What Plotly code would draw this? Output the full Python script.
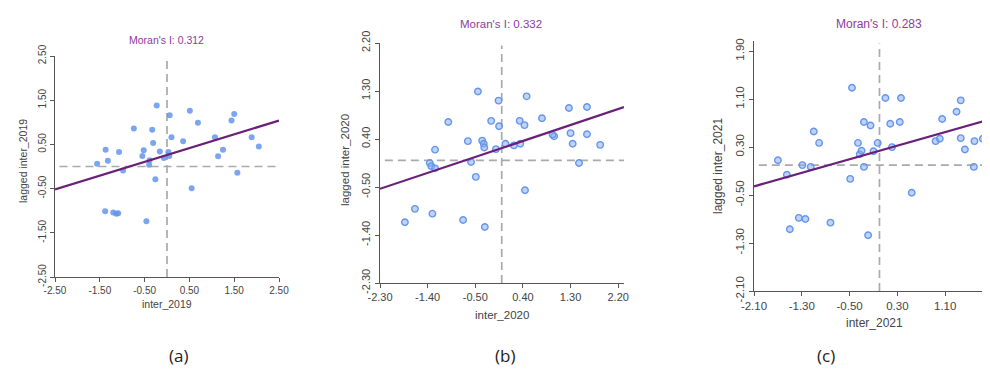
import plotly.graph_objects as go

W, H = 990, 369

# ---------------- data ----------------
years = ["2019", "2020", "2021"]
moran_I = [0.312, 0.332, 0.283]          # slope of the fitted line
fit_intercept = [0.26, 0.23, 0.24]
mean_x = [0.0, 0.0, 0.0]
mean_y = [0.0, 0.0, 0.0]
panel_labels = ["(a)", "(b)", "(c)"]

x_2019 = [-1.56, -1.37, -1.32, -1.07, -0.98, -0.74, -0.55, -0.52, -0.39, -0.40,
          -0.31, -0.33, -0.26, -0.23, -0.16, -0.07, 0.03, 0.05, 0.06, 0.10,
          0.36, 0.51, 0.55, 0.69, 1.07, 1.14, 1.25, 1.44, 1.50, 1.57,
          1.89, 2.05, -1.38, -1.20, -1.13, -1.09, -0.46]
y_2019 = [0.06, 0.38, 0.13, 0.33, -0.09, 0.86, 0.24, 0.37, 0.14, 0.04,
          0.53, 0.83, -0.29, 1.38, 0.34, 0.19, 0.33, 0.24, 1.16, 0.66,
          0.57, 1.26, -0.49, 0.99, 0.66, 0.23, 0.38, 1.04, 1.19, -0.14,
          0.66, 0.45, -1.01, -1.04, -1.07, -1.06, -1.24]

x_2020 = [-1.83, -1.64, -1.31, -0.73, -0.32, -1.36, -1.33, -1.26, -1.26, -1.01,
          -0.64, -0.58, -0.49, -0.45, -0.37, -0.34, -0.33, -0.20, -0.11, -0.06,
          -0.05, 0.07, 0.23, 0.34, 0.35, 0.43, 0.44, 0.47, 0.76, 0.99,
          0.96, 1.27, 1.30, 1.34, 1.46, 1.61, 1.61, 1.86]
y_2020 = [-1.16, -0.91, -1.00, -1.12, -1.25, -0.05, -0.11, -0.15, 0.20, 0.72,
          0.36, -0.03, -0.31, 1.29, 0.37, 0.31, 0.24, 0.74, 0.21, 1.12,
          0.64, 0.31, 0.28, 0.74, 0.31, 0.66, -0.56, 1.20, 0.79, 0.45,
          0.48, 0.98, 0.51, 0.31, -0.05, 1.00, 0.49, 0.29]

x_2021 = [-1.70, -1.55, -1.50, -1.35, -1.24, -1.29, -1.15, -1.10, -1.01, -0.82,
          -0.49, -0.46, -0.36, -0.33, -0.30, -0.26, -0.26, -0.19, -0.15, -0.10,
          -0.03, 0.10, 0.18, 0.21, 0.34, 0.36, 0.54, 0.94, 1.01, 1.05,
          1.29, 1.36, 1.36, 1.43, 1.58, 1.59, 1.73]
y_2021 = [0.08, -0.16, -1.07, -0.88, -0.90, 0.00, -0.03, 0.56, 0.37, -0.96,
          -0.23, 1.29, 0.37, 0.18, 0.24, 0.72, -0.03, -1.17, 0.66, 0.23,
          0.37, 1.12, 0.69, 0.30, 0.72, 1.12, -0.46, 0.40, 0.44, 0.77,
          0.89, 1.08, 0.45, 0.26, -0.03, 0.40, 0.44]

xs = [x_2019, x_2020, x_2021]
ys = [y_2019, y_2020, y_2021]

ticks_2019 = [-2.5, -1.5, -0.5, 0.5, 1.5, 2.5]
ticks_2020 = [-2.3, -1.4, -0.5, 0.4, 1.3, 2.2]
ticks_2021 = [-2.1, -1.3, -0.5, 0.3, 1.1, 1.9]
tick_sets = [ticks_2019, ticks_2020, ticks_2021]

# ---------------- layout geometry (pixels) ----------------
# plot-area box in pixels: left, right, top, bottom
boxes = [(47, 271, 48, 269), (372, 616, 35, 275), (746, 990, 33, 283)]
x_ranges = [[-2.5, 2.5], [-2.3, 2.31], [-2.1, 1.984]]
y_ranges = [[-2.5, 2.5], [-2.3, 2.2], [-2.1, 2.07]]
title_pos = [(158, 32), (493, 16), (871, 16)]
xtitle_pos = [(159, 296), (494, 307), (866, 315)]
ytitle_pos = [(15, 153), (337, 152), (710, 158)]
label_pos = [(170, 347), (497, 347), (818, 347)]
font_sizes = [10.5, 11.5, 12]

TXT = "#444444"
AXC = "#555555"
PURPLE_T = "#8E3A9B"
PURPLE_L = "#6A1F78"
BLUE = "#6495ED"
FONT = "Liberation Sans, Arial, sans-serif"

fig = go.Figure()

annotations = []
shapes = []
layout_axes = {}

for i in range(3):
    n = "" if i == 0 else str(i + 1)
    xa, ya = "x" + n, "y" + n
    l, r, t, b = boxes[i]
    fs = font_sizes[i]

    # points
    if i == 0:
        marker = dict(size=6, color="rgba(100,149,237,0.85)", line=dict(width=0))
    else:
        marker = dict(size=6.5, color="rgba(140,175,240,0.55)",
                      line=dict(width=1.4, color=BLUE))
    fig.add_trace(go.Scatter(x=xs[i], y=ys[i], mode="markers", marker=marker,
                             xaxis=xa, yaxis=ya, showlegend=False,
                             hoverinfo="x+y"))

    # fitted line across x range
    x0, x1 = x_ranges[i]
    fig.add_trace(go.Scatter(
        x=[x0, x1],
        y=[fit_intercept[i] + moran_I[i] * x0, fit_intercept[i] + moran_I[i] * x1],
        mode="lines", line=dict(color=PURPLE_L, width=2.2),
        xaxis=xa, yaxis=ya, showlegend=False, hoverinfo="skip"))

    # mean dashed lines
    shapes.append(dict(type="line", xref=xa, yref=ya + " domain",
                       x0=mean_x[i], x1=mean_x[i], y0=0, y1=0.99,
                       line=dict(color="#AAAAAA", width=1.7, dash="8px,5px"),
                       layer="below"))
    shapes.append(dict(type="line", xref=xa + " domain", yref=ya,
                       x0=0.02, x1=1, y0=mean_y[i], y1=mean_y[i],
                       line=dict(color="#AAAAAA", width=1.7, dash="8px,5px"),
                       layer="below"))

    tv = tick_sets[i]
    tt = ["%.2f" % v for v in tv]
    common = dict(showgrid=False, zeroline=False, showline=True, linecolor=AXC,
                  linewidth=1.3, ticks="outside", ticklen=4, tickcolor=AXC,
                  tickwidth=1.2, tickvals=tv, ticktext=tt, automargin=False,
                  ticklabeloverflow="allow",
                  tickfont=dict(family=FONT, size=fs - 0.5, color=TXT))
    layout_axes["xaxis" + n] = dict(common, domain=[l / W, r / W], range=x_ranges[i],
                                    anchor=ya)
    layout_axes["yaxis" + n] = dict(common, domain=[1 - b / H, 1 - t / H],
                                    range=y_ranges[i], anchor=xa, tickangle=-90)

    # titles
    tx, ty = title_pos[i]
    annotations.append(dict(text="Moran's I: %.3f" % moran_I[i], x=tx / W, y=1 - ty / H,
                            xref="paper", yref="paper", showarrow=False,
                            xanchor="center", yanchor="middle",
                            font=dict(family=FONT, size=fs, color=PURPLE_T)))
    tx, ty = xtitle_pos[i]
    annotations.append(dict(text="inter_" + years[i], x=tx / W, y=1 - ty / H,
                            xref="paper", yref="paper", showarrow=False,
                            xanchor="center", yanchor="middle",
                            font=dict(family=FONT, size=fs, color=TXT)))
    tx, ty = ytitle_pos[i]
    annotations.append(dict(text="lagged inter_" + years[i], x=tx / W, y=1 - ty / H,
                            xref="paper", yref="paper", showarrow=False,
                            xanchor="center", yanchor="middle", textangle=-90,
                            font=dict(family=FONT, size=fs, color=TXT)))
    tx, ty = label_pos[i]
    annotations.append(dict(text=panel_labels[i], x=tx / W, y=1 - ty / H,
                            xref="paper", yref="paper", showarrow=False,
                            xanchor="center", yanchor="middle",
                            font=dict(family="Open Sans, sans-serif", size=17, color="#222222")))

fig.update_layout(width=W, height=H, margin=dict(l=0, r=0, t=0, b=0, autoexpand=False),
                  paper_bgcolor="white", plot_bgcolor="white",
                  annotations=annotations, shapes=shapes, **layout_axes)

fig.write_html("out.html")
